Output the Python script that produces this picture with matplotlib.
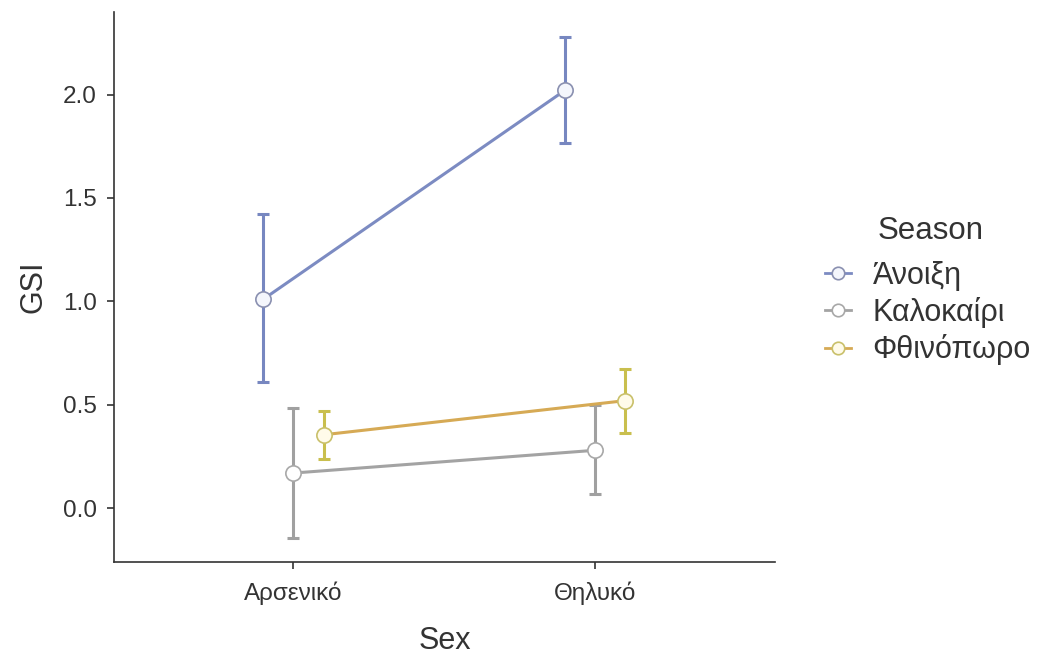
import matplotlib
matplotlib.use("Agg")
import matplotlib.pyplot as plt
from matplotlib.lines import Line2D
import numpy as np

plt.rcParams['font.family'] = ['Liberation Sans', 'DejaVu Sans']

sex = ["Αρσενικό", "Θηλυκό"]
seasons = ["Άνοιξη", "Καλοκαίρι", "Φθινόπωρο"]
means = {
    "Άνοιξη": [1.01, 2.02],
    "Καλοκαίρι": [0.17, 0.28],
    "Φθινόπωρο": [0.355, 0.52],
}
lower = {
    "Άνοιξη": [0.61, 1.765],
    "Καλοκαίρι": [-0.145, 0.068],
    "Φθινόπωρο": [0.237, 0.363],
}
upper = {
    "Άνοιξη": [1.42, 2.28],
    "Καλοκαίρι": [0.484, 0.50],
    "Φθινόπωρο": [0.47, 0.673],
}
line_colors = {"Άνοιξη": "#7c8bc2", "Καλοκαίρι": "#a3a3a3", "Φθινόπωρο": "#d6aa55"}
err_colors = {"Άνοιξη": "#7787c0", "Καλοκαίρι": "#a0a0a0", "Φθινόπωρο": "#c9bf4e"}
edge_colors = {"Άνοιξη": "#8a90b0", "Καλοκαίρι": "#a8a8a8", "Φθινόπωρο": "#c9c06a"}
face_colors = {"Άνοιξη": "#f4f6fc", "Καλοκαίρι": "#ffffff", "Φθινόπωρο": "#fffbea"}
offsets = [-0.1, 0.0, 0.1]

fig = plt.figure(figsize=(10.45, 6.55), dpi=100)
ax = fig.add_axes([0.109, 0.142, 0.633, 0.840])

base = np.arange(1, len(sex) + 1)
handles = []
for s, off in zip(seasons, offsets):
    x = base + off
    m = np.array(means[s])
    lo = np.array(lower[s])
    hi = np.array(upper[s])
    ax.errorbar(x, m, yerr=[m - lo, hi - m], fmt='none', ecolor=err_colors[s],
                elinewidth=2.2, capsize=4, capthick=2.2, zorder=2)
    ax.plot(x, m, color=line_colors[s], lw=2.2, zorder=3)
    ax.plot(x, m, 'o', ms=11, mfc=face_colors[s], mec=edge_colors[s], mew=1.2, zorder=4)
    handles.append(Line2D([0], [0], color=line_colors[s], lw=2, marker='o', ms=9,
                          mfc=face_colors[s], mec=edge_colors[s], mew=1.2))

ax.set_xlim(0.405, 2.598)
ax.set_ylim(-0.26, 2.40)
ax.set_xticks(base)
ax.set_xticklabels(sex)
ax.set_yticks([0.0, 0.5, 1.0, 1.5, 2.0])
ax.set_yticklabels(["0.0", "0.5", "1.0", "1.5", "2.0"])
ax.tick_params(axis='both', labelsize=17.5, colors='#333333', length=5, width=1.2,
               labelcolor='#333333')
ax.tick_params(axis='x', pad=9)
ax.tick_params(axis='y', pad=7.5)
for sp in ['top', 'right']:
    ax.spines[sp].set_visible(False)
for sp in ['left', 'bottom']:
    ax.spines[sp].set_color('#333333')
    ax.spines[sp].set_linewidth(1.2)

ax.set_xlabel("Sex", fontsize=22, color='#333333', labelpad=15)
ax.set_ylabel("GSI", fontsize=22, color='#333333', labelpad=10)

leg = fig.legend(handles, seasons, loc='center left',
                 bbox_to_anchor=(0.778, 0.522), frameon=False, fontsize=22,
                 handlelength=0.85, handletextpad=0.7,
                 labelspacing=0.2, borderaxespad=0)
for t in leg.get_texts():
    t.set_color('#333333')

fig.text(0.891, 0.647, "Season", fontsize=22.5, color='#333333',
         ha='center', va='center')

fig.savefig("out.png", dpi=100)
